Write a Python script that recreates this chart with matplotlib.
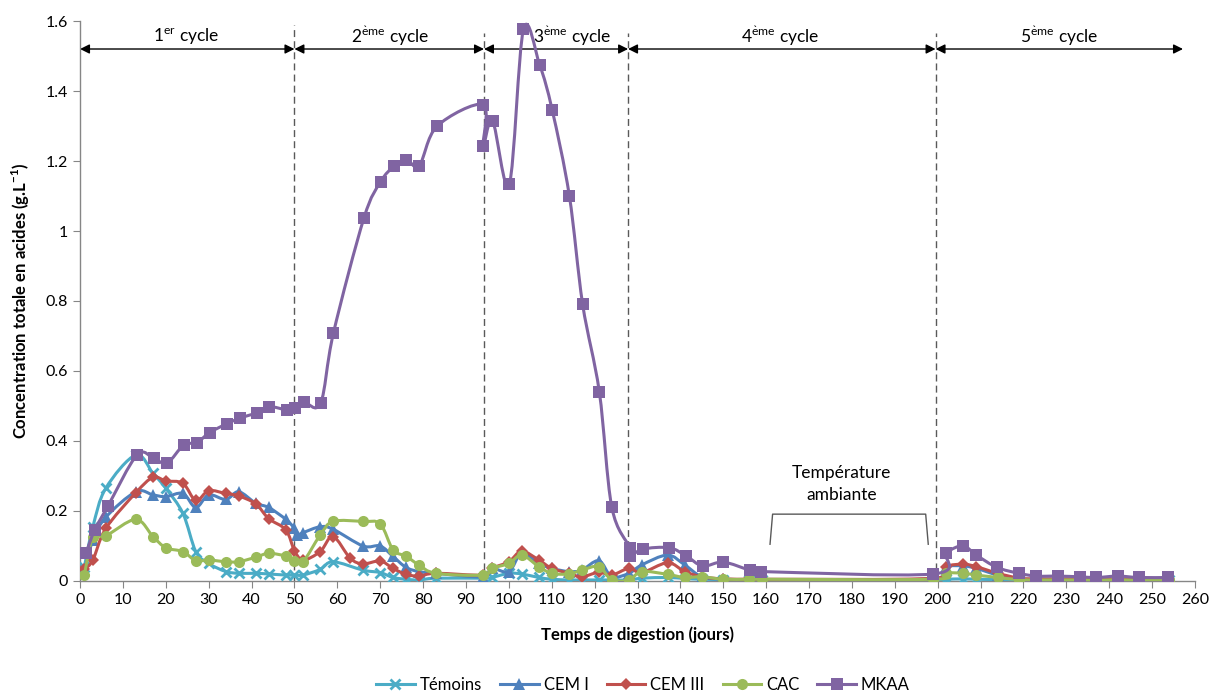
import numpy as np
import matplotlib
matplotlib.use('Agg')
import matplotlib.pyplot as plt
from matplotlib.path import Path
from matplotlib.patches import PathPatch
from matplotlib.lines import Line2D

plt.rcParams['font.family'] = ['Lato', 'DejaVu Sans']
plt.rcParams['mathtext.fontset'] = 'custom'
plt.rcParams['mathtext.rm'] = 'Lato'
plt.rcParams['mathtext.bf'] = 'Lato:bold'

# jours de prelevement et concentrations (g/L)
j_temoins = [1, 3, 6, 13, 17, 20, 24, 27, 30, 34, 37, 41, 44, 48, 50, 52, 56, 59, 66, 70, 73, 76, 79, 83, 94,
             96, 100, 103, 107, 110, 114, 117, 121, 124, 128, 131, 137, 141, 145, 150, 156, 159, 199,
             202, 206, 209, 214, 219, 223, 228, 233, 237, 242, 247, 254]
temoins = [0.04, 0.155, 0.265, 0.36, 0.308, 0.265, 0.193, 0.084, 0.05, 0.027, 0.022, 0.022, 0.02, 0.017, 0.017,
           0.017, 0.033, 0.055, 0.031, 0.024, 0.01, 0.005, 0.003, 0.008, 0.008,
           0.01, 0.022, 0.02, 0.01, 0.005, 0.003, 0.003, 0.003, 0.003, 0.003,
           0.008, 0.01, 0.007, 0.005, 0.004, 0.003, 0.003, 0.003,
           0.005, 0.006, 0.005, 0.004, 0.004, 0.004, 0.004, 0.004, 0.004, 0.004, 0.004, 0.004]

j_cem1 = [1, 3, 6, 13, 17, 20, 24, 27, 30, 34, 37, 41, 44, 48, 50, 50.5, 52, 56, 59, 66, 70, 73, 76, 79, 83, 94,
          96, 100, 103, 107, 110, 114, 117, 121, 124, 128, 131, 137, 141, 145, 150, 156, 159, 199,
          202, 206, 209, 214, 219, 223, 228, 233, 237, 242, 247, 254]
cem1 = [0.03, 0.117, 0.182, 0.255, 0.246, 0.241, 0.25, 0.21, 0.246, 0.233, 0.255, 0.222, 0.21, 0.176, 0.15, 0.13,
        0.138, 0.155, 0.148, 0.1, 0.1, 0.07, 0.039, 0.027, 0.022, 0.012,
        0.036, 0.027, 0.079, 0.05, 0.036, 0.027, 0.031, 0.058, 0.012, 0.022,
        0.046, 0.074, 0.046, 0.012, 0.005, 0.004, 0.004, 0.006,
        0.04, 0.043, 0.036, 0.017, 0.006, 0.005, 0.005, 0.005, 0.005, 0.005, 0.005, 0.005]

j_cem3 = [1, 3, 6, 13, 17, 20, 24, 27, 30, 34, 37, 41, 44, 48, 50, 52, 56, 59, 63, 66, 70, 73, 76, 79, 83, 94,
          96, 100, 103, 107, 110, 114, 117, 121, 124, 128, 131, 137, 141, 145, 150, 156, 159, 199,
          202, 206, 209, 214, 219, 223, 228, 233, 237, 242, 247, 254]
cem3 = [0.033, 0.06, 0.15, 0.252, 0.296, 0.286, 0.279, 0.23, 0.258, 0.25, 0.243, 0.22, 0.178, 0.146, 0.087,
        0.06, 0.084, 0.127, 0.065, 0.049, 0.057, 0.036, 0.019, 0.014, 0.022, 0.017,
        0.036, 0.055, 0.085, 0.06, 0.036, 0.022, 0.012, 0.025, 0.017, 0.036,
        0.024, 0.052, 0.027, 0.012, 0.006, 0.005, 0.005, 0.008,
        0.041, 0.048, 0.041, 0.022, 0.008, 0.006, 0.006, 0.006, 0.006, 0.006, 0.006, 0.006]

j_cac = [1, 3, 6, 13, 17, 20, 24, 27, 30, 34, 37, 41, 44, 48, 50, 52, 56, 59, 66, 70, 73, 76, 79, 83, 94,
         96, 100, 103, 107, 110, 114, 117, 121, 124, 128, 131, 137, 141, 145, 150, 156, 159, 199,
         202, 206, 209, 214, 219, 223, 228, 233, 237, 242, 247, 254]
cac = [0.017, 0.125, 0.129, 0.176, 0.127, 0.095, 0.084, 0.058, 0.06, 0.055, 0.055, 0.068, 0.079, 0.071, 0.058,
       0.055, 0.131, 0.17, 0.17, 0.163, 0.089, 0.071, 0.046, 0.022, 0.017,
       0.036, 0.05, 0.074, 0.041, 0.022, 0.02, 0.031, 0.041, 0.003, 0.003,
       0.027, 0.019, 0.01, 0.012, 0.005, 0.005, 0.005, 0.005,
       0.022, 0.022, 0.017, 0.01, 0.004, 0.003, 0.003, 0.003, 0.003, 0.003, 0.003, 0.003]

j_mkaa = [1.4, 3.4, 6.5, 13.3, 17.2, 20.3, 24.2, 27.2, 30.2, 34.2, 37.2, 41.3, 44.1, 48.3, 50.2, 52.2, 56.1,
          59.1, 66.2, 70.1, 73.3, 76.1, 79.1, 83.3, 94, 94, 96.2, 100.1, 103.4, 107.2, 110.1, 114.1, 117.2,
          121.1, 124, 128.2, 128.2, 131.2, 137.4, 141.3, 145.2, 150, 156.2, 158.9, 198.9,
          202, 205.9, 209, 213.8, 218.9, 223, 228, 233.1, 237, 242, 246.9, 253.8]
mkaa = [0.08, 0.145, 0.214, 0.36, 0.35, 0.337, 0.389, 0.395, 0.424, 0.449, 0.465, 0.481, 0.498, 0.489, 0.495,
        0.511, 0.508, 0.709, 1.037, 1.141, 1.186, 1.204, 1.187, 1.3, 1.361, 1.243, 1.315, 1.134, 1.576,
        1.474, 1.346, 1.101, 0.791, 0.54, 0.211, 0.095, 0.07, 0.091, 0.095, 0.072, 0.043, 0.054, 0.031,
        0.027, 0.02, 0.079, 0.1, 0.074, 0.039, 0.022, 0.014, 0.014, 0.012, 0.01, 0.014, 0.01, 0.01]

limites = [50, 94.2, 127.8, 199.5]
cycles = ['1$^{\\mathrm{er}}$ cycle', '2$^{\\mathrm{\\grave{e}me}}$ cycle', '3$^{\\mathrm{\\grave{e}me}}$ cycle',
          '4$^{\\mathrm{\\grave{e}me}}$ cycle', '5$^{\\mathrm{\\grave{e}me}}$ cycle']
x_cycles = [24.7, 72.2, 114.7, 163.3, 228.3]


def smooth_path(x, y):
    # courbe lissee facon Excel (Bezier type Catmull-Rom)
    pts = np.column_stack([x, y]).astype(float)
    n = len(pts)
    verts = [pts[0]]
    codes = [Path.MOVETO]
    for i in range(n - 1):
        p0 = pts[i - 1] if i > 0 else pts[i]
        p1 = pts[i]
        p2 = pts[i + 1]
        p3 = pts[i + 2] if i + 2 < n else pts[i + 1]
        verts += [p1 + (p2 - p0) / 6, p2 - (p3 - p1) / 6, p2]
        codes += [Path.CURVE4] * 3
    return Path(verts, codes)


series = [
    ('Témoins', j_temoins, temoins, '#4BACC6', 'x', 7, 2),
    ('CEM I', j_cem1, cem1, '#4F81BD', '^', 8, 0),
    ('CEM III', j_cem3, cem3, '#C0504D', 'D', 6, 0),
    ('CAC', j_cac, cac, '#9BBB59', 'o', 8, 0),
    ('MKAA', j_mkaa, mkaa, '#8064A2', 's', 8, 0),
]

fig = plt.figure(figsize=(12.2, 6.91), dpi=100)
ax = fig.add_axes([0.0656, 0.1592, 0.9139, 0.8104])

handles = []
for k, (nom, xs, ys, col, mk, ms, mew) in enumerate(series):
    patch = PathPatch(smooth_path(xs, ys), facecolor='none', edgecolor=col, lw=2.2, zorder=3 + k,
                      capstyle='round', joinstyle='round')
    ax.add_patch(patch)
    ax.plot(xs, ys, linestyle='none', marker=mk, ms=ms, color=col, mec=col, mew=mew, zorder=3 + k)
    handles.append(Line2D([], [], color=col, lw=2.2, marker=mk, ms=ms, mec=col, mew=mew))

ax.set_xlim(0, 260)
ax.set_ylim(0, 1.6)
ax.set_xticks(np.arange(0, 261, 10))
ax.set_yticks([0, 0.2, 0.4, 0.6, 0.8, 1.0, 1.2, 1.4, 1.6])
ax.set_yticklabels(['0', '0.2', '0.4', '0.6', '0.8', '1', '1.2', '1.4', '1.6'])
for s in ['top', 'right']:
    ax.spines[s].set_visible(False)
for s in ['left', 'bottom']:
    ax.spines[s].set_color('#868686')
    ax.spines[s].set_linewidth(1.0)
ax.tick_params(axis='both', colors='#868686', labelcolor='black', labelsize=11.5, length=5, direction='out')

ax.set_xlabel('Temps de digestion (jours)', fontsize=12, fontweight='bold', labelpad=14)
ax.set_ylabel('Concentration totale en acides (g.L$^{\\mathbf{-1}}$)', fontsize=12, fontweight='bold',
              labelpad=10)

# separations des cycles
tops = [1.59, 1.567, 1.567, 1.567]
for xl, t in zip(limites, tops):
    ax.plot([xl, xl], [0, t], ls=(0, (5, 3)), color='#595959', lw=1.0, zorder=2)

bornes = [0] + limites + [257.2]
y_fl = 1.52
for i in range(5):
    ax.annotate('', xy=(bornes[i + 1], y_fl), xytext=(bornes[i], y_fl),
                arrowprops=dict(arrowstyle='<|-|>', color='black', lw=1.0, mutation_scale=14,
                                shrinkA=0, shrinkB=0), zorder=2)
    ax.text(x_cycles[i], 1.556, cycles[i], ha='center', va='center', fontsize=12.5)

# temperature ambiante
ax.text(177.5, 0.277, 'Température\nambiante', ha='center', va='center', fontsize=12.5, linespacing=1.4)
ax.plot([160.9, 161.5, 197.2, 197.8], [0.105, 0.191, 0.191, 0.105], color='#595959', lw=1.0)

fig.legend(handles, [s[0] for s in series], loc='lower center', bbox_to_anchor=(0.527, -0.024), ncol=5,
           frameon=False, fontsize=12, handlelength=2.3, columnspacing=1.1, handletextpad=0.3)

fig.savefig('out.png', dpi=100)
